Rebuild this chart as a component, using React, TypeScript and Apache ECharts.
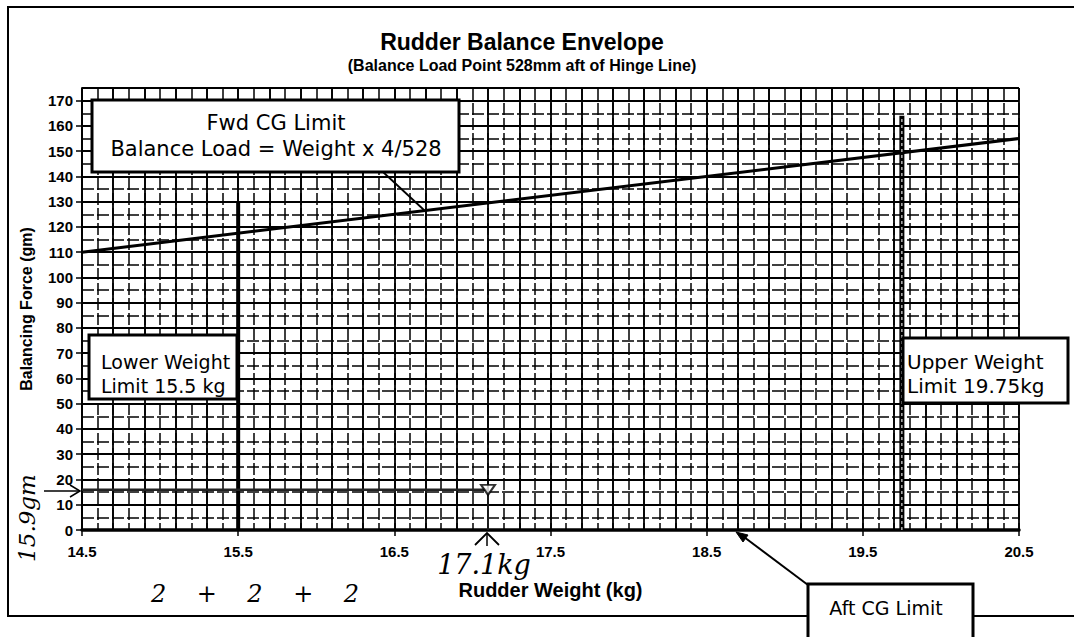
import React, { useEffect, useRef } from "react";
import * as echarts from "echarts";

// ---- data ----
const xTickValues = [14.5, 15.5, 16.5, 17.5, 18.5, 19.5, 20.5];
const yTickValues = [0, 10, 20, 30, 40, 50, 60, 70, 80, 90, 100, 110, 120, 130, 140, 150, 160, 170];
const fwdCGLimit = [
  [14.5, 110],
  [20.5, 155],
];
const lowerWeightLimit = [
  [15.5, 0],
  [15.5, 130],
];
const upperWeightLimit = [
  [19.75, 0],
  [19.75, 164],
];
const measuredForce = [
  [14.5, 15.9],
  [17.1, 15.9],
];
const measuredDrop = [
  [17.1, 15.9],
  [17.1, 0],
];
const measuredPoint = [[17.1, 15.9]];

const BLACK = "#000";

export default function App() {
  const ref = useRef<HTMLDivElement>(null);

  useEffect(() => {
    if (!ref.current) return;
    const chart = echarts.init(ref.current, undefined, { renderer: "svg" });

    const gridAxisX = (interval: number, type: any, width: number) => ({
      type: "value",
      min: 0,
      max: 60,
      interval,
      gridIndex: 0,
      axisLine: { show: false },
      axisTick: { show: false },
      axisLabel: { show: false },
      splitLine: { show: true, lineStyle: { color: BLACK, width, type } },
    });
    const gridAxisY = (interval: number, type: any, width: number) => ({
      type: "value",
      min: 0,
      max: 35,
      interval,
      gridIndex: 0,
      axisLine: { show: false },
      axisTick: { show: false },
      axisLabel: { show: false },
      splitLine: { show: true, lineStyle: { color: BLACK, width, type } },
    });

    const z = 20;
    const txt = (text: string, x: number, y: number, size: number, extra: any = {}, el: any = {}) => ({
      type: "text",
      z: z + 2,
      x,
      y,
      ...el,
      style: {
        text,
        fill: BLACK,
        fontSize: size,
        fontFamily: "DejaVu Sans",
        align: "center",
        verticalAlign: "middle",
        ...extra,
      },
    });
    const hand = { fontFamily: "DejaVu Serif", fontStyle: "italic" };

    chart.setOption({
      animation: false,
      backgroundColor: "#fff",
      title: {
        text: "Rudder Balance Envelope",
        subtext: "(Balance Load Point 528mm aft of Hinge Line)",
        left: 522,
        textAlign: "center",
        top: 30,
        padding: 0,
        itemGap: 4,
        textStyle: { fontFamily: "Liberation Sans", fontSize: 23, fontWeight: "bold", color: BLACK },
        subtextStyle: { fontFamily: "Liberation Sans", fontSize: 16, fontWeight: "bold", color: BLACK },
      },
      grid: { left: 82, top: 88, right: 55, bottom: 107, containLabel: false },
      xAxis: [
        {
          type: "value",
          min: 14.5,
          max: 20.5,
          position: "bottom",
          name: "Rudder Weight (kg)",
          nameLocation: "middle",
          nameGap: 50,
          nameTextStyle: { fontFamily: "Liberation Sans", fontSize: 20, fontWeight: "bold", color: BLACK },
          axisLine: { show: true, onZero: false, lineStyle: { color: BLACK, width: 3.5 } },
          axisTick: { show: true, customValues: xTickValues, length: 6, lineStyle: { color: BLACK, width: 1.5 } },
          axisLabel: {
            customValues: xTickValues,
            margin: 14,
            color: BLACK,
            fontFamily: "Liberation Sans",
            fontSize: 15,
            fontWeight: "bold",
            formatter: (v: number) => v.toFixed(1),
          },
          splitLine: { show: false },
          z: 5,
        },
        gridAxisX(1, [12, 3], 1.5),
        gridAxisX(2, "solid", 1.8),
      ],
      yAxis: [
        {
          type: "value",
          min: 0,
          max: 175,
          position: "left",
          name: "Balancing Force (gm)",
          nameLocation: "middle",
          nameGap: 48,
          nameRotate: 90,
          nameTextStyle: { fontFamily: "Liberation Sans", fontSize: 16, fontWeight: "bold", color: BLACK },
          axisLine: { show: true, onZero: false, lineStyle: { color: BLACK, width: 1.8 } },
          axisTick: { show: true, customValues: yTickValues, length: 6, lineStyle: { color: BLACK, width: 1.5 } },
          axisLabel: {
            customValues: yTickValues,
            margin: 9,
            color: BLACK,
            fontFamily: "Liberation Sans",
            fontSize: 15,
            fontWeight: "bold",
          },
          splitLine: { show: false },
          z: 5,
        },
        gridAxisY(1, [12, 3], 1.5),
        gridAxisY(2, "solid", 1.8),
      ],
      series: [
        {
          name: "Fwd CG Limit",
          type: "line",
          data: fwdCGLimit,
          symbol: "none",
          lineStyle: { color: BLACK, width: 3 },
          z: 10,
        },
        {
          name: "Lower Weight Limit",
          type: "line",
          data: lowerWeightLimit,
          symbol: "none",
          lineStyle: { color: BLACK, width: 4 },
          z: 10,
        },
        {
          name: "Upper Weight Limit",
          type: "line",
          data: upperWeightLimit,
          symbol: "none",
          lineStyle: { color: BLACK, width: 5 },
          z: 10,
        },
        {
          name: "Upper Weight Limit inner",
          type: "line",
          data: upperWeightLimit,
          symbol: "none",
          lineStyle: { color: "#ddd", width: 1.2, type: [3, 3] },
          z: 11,
        },
        {
          name: "Measured",
          type: "line",
          data: measuredForce,
          symbol: "none",
          lineStyle: { color: "#222", width: 2.5 },
          z: 10,
        },
        {
          name: "Measured drop",
          type: "line",
          data: measuredDrop,
          symbol: "none",
          lineStyle: { color: "#222", width: 1.5 },
          z: 10,
        },
        {
          name: "Measured point",
          type: "scatter",
          data: measuredPoint,
          symbol: "triangle",
          symbolRotate: 180,
          symbolSize: [14, 10],
          itemStyle: { color: "#fff", borderColor: BLACK, borderWidth: 2 },
          z: 12,
        },
      ],
      graphic: [
        // page frame
        {
          type: "polyline",
          z: z,
          shape: { points: [[1074, 7], [8, 7], [8, 616], [1074, 616]] },
          style: { stroke: BLACK, lineWidth: 2, fill: null },
        },
        // Fwd CG box
        {
          type: "rect",
          z: z + 1,
          shape: { x: 92, y: 100, width: 367, height: 72 },
          style: { fill: "#fff", stroke: BLACK, lineWidth: 3 },
        },
        txt("Fwd CG Limit", 276, 123, 21),
        txt("Balance Load = Weight x 4/528", 276, 149, 21),
        {
          type: "line",
          z: z + 1,
          shape: { x1: 383, y1: 172, x2: 424, y2: 210 },
          style: { stroke: BLACK, lineWidth: 1.8 },
        },
        // Lower weight box
        {
          type: "rect",
          z: z + 1,
          shape: { x: 89, y: 335, width: 148, height: 64 },
          style: { fill: "#fff", stroke: BLACK, lineWidth: 3 },
        },
        txt("Lower Weight", 101, 362, 19, { align: "left" }),
        txt("Limit 15.5 kg", 101, 386, 19, { align: "left" }),
        // Upper weight box
        {
          type: "rect",
          z: z + 1,
          shape: { x: 903, y: 338, width: 165, height: 65 },
          style: { fill: "#fff", stroke: BLACK, lineWidth: 3 },
        },
        txt("Upper Weight", 907, 362, 20, { align: "left" }),
        txt("Limit 19.75kg", 907, 386, 20, { align: "left" }),
        // Aft CG box + arrow
        {
          type: "line",
          z: z + 1,
          shape: { x1: 808, y1: 585, x2: 740, y2: 534 },
          style: { stroke: BLACK, lineWidth: 2 },
        },
        {
          type: "polygon",
          z: z + 1,
          shape: { points: [[736, 532], [748, 535], [743, 542]] },
          style: { fill: BLACK, stroke: BLACK, lineWidth: 1 },
        },
        {
          type: "rect",
          z: z + 1,
          shape: { x: 808, y: 584, width: 165, height: 80 },
          style: { fill: "#fff", stroke: BLACK, lineWidth: 3 },
        },
        txt("Aft CG Limit", 886, 608, 19),
        // handwritten notes
        txt("15.9gm", 27, 518, 23, hand, { rotation: Math.PI / 2 }),
        txt("17.1kg", 484, 564, 27, hand),
        txt("2    +    2    +    2", 255, 594, 24, hand),
        {
          type: "polyline",
          z: z + 1,
          shape: { points: [[44, 491], [80, 491]] },
          style: { stroke: BLACK, lineWidth: 1.5, fill: null },
        },
        {
          type: "polyline",
          z: z + 1,
          shape: { points: [[70, 485], [80, 491], [70, 497]] },
          style: { stroke: BLACK, lineWidth: 1.5, fill: null },
        },
        {
          type: "polyline",
          z: z + 1,
          shape: { points: [[475, 545], [487, 533], [499, 545]] },
          style: { stroke: BLACK, lineWidth: 1.8, fill: null },
        },
        {
          type: "line",
          z: z + 1,
          shape: { x1: 487, y1: 533, x2: 487, y2: 546 },
          style: { stroke: BLACK, lineWidth: 1.5 },
        },
      ],
    });

    return () => chart.dispose();
  }, []);

  return (
    <div
      ref={ref}
      style={{ position: "absolute", left: 0, top: 0, width: 1074, height: 637 }}
    />
  );
}
